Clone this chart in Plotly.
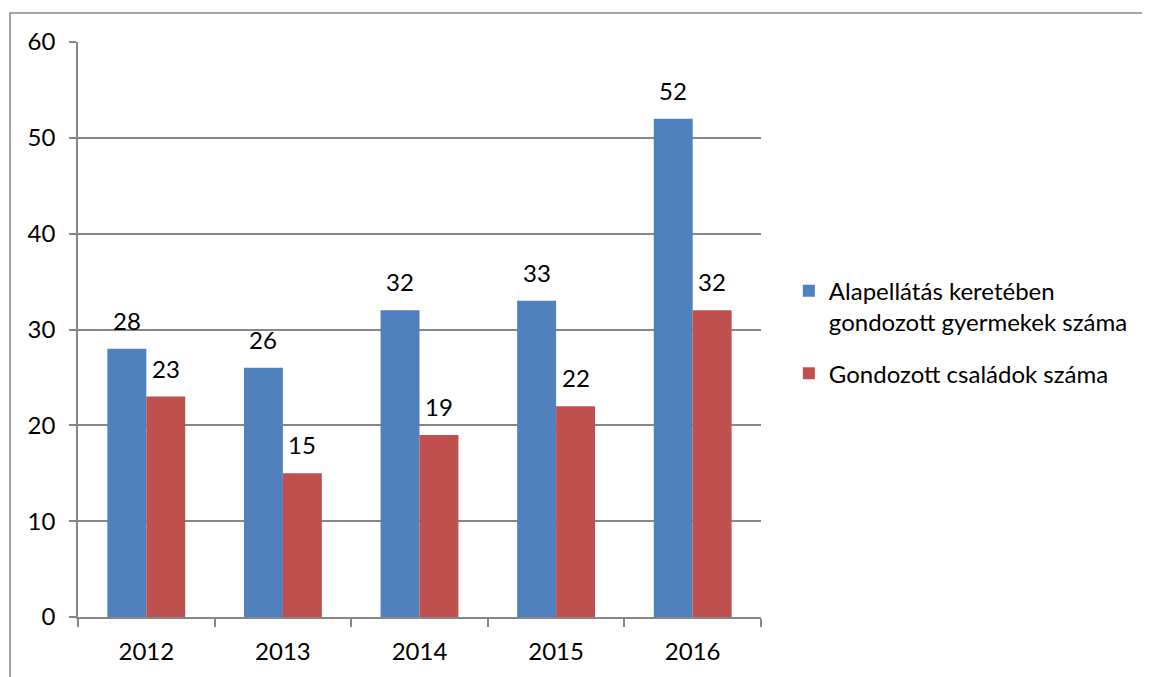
import plotly.graph_objects as go

years = ["2012", "2013", "2014", "2015", "2016"]
children = [28, 26, 32, 33, 52]
families = [23, 15, 19, 22, 32]
series_names = ["Alapellátás keretében<br>gondozott gyermekek száma", "Gondozott családok száma"]
colors = ["#4F81BD", "#C0504D"]
y_ticks = [0, 10, 20, 30, 40, 50, 60]

FONT = "Lato"
FS = 24
GRID = "#868686"

# plot area in figure pixels (page has an 8px body offset)
L, T, R, B = 70, 34, 753, 609.5
PW, PH = R - L, B - T

fig = go.Figure()
for i, (vals, name, col) in enumerate(zip([children, families], series_names, colors)):
    fig.add_trace(go.Bar(x=years, y=vals, name=name, marker_color=col,
                         marker_line_width=0, legendgroup=f"g{i}"))

# data labels (category index used for x so numeric-looking names are not misread)
for i, vals in enumerate([children, families]):
    shift = -19.5 if i == 0 else 19.5
    for j, v in enumerate(vals):
        fig.add_annotation(x=j, y=v, text=str(v), showarrow=False, xshift=shift,
                           yanchor="bottom", yshift=12, font=dict(family=FONT, size=FS, color="black"))

fig.update_layout(
    width=1150, height=677,
    margin=dict(l=L, r=1150 - R, t=T, b=677 - B, autoexpand=False),
    paper_bgcolor="white", plot_bgcolor="white",
    barmode="group", bargap=0.43, bargroupgap=0,
    font=dict(family=FONT, size=FS, color="black"),
    showlegend=True,
    legend=dict(xref="container", yref="container", x=0.679, y=0.615,
                xanchor="left", yanchor="top", valign="top",
                tracegroupgap=17, font=dict(family=FONT, size=FS, color="black"),
                bgcolor="rgba(0,0,0,0)"),
    shapes=[dict(type="rect", xref="paper", yref="paper",
                 x0=(2 - L) / PW, x1=(1250 - L) / PW,
                 y0=-(800 - B) / PH, y1=(B - 5) / PH,
                 line=dict(color="#888888", width=1.5), fillcolor="rgba(0,0,0,0)", layer="below")],
)
fig.update_xaxes(type="category", showline=True, linecolor=GRID, linewidth=1.5,
                 ticks="outside", ticklen=8, tickcolor=GRID, tickwidth=1.5,
                 tickson="boundaries", showgrid=False, ticklabelstandoff=12,
                 tickangle=0, automargin=False)
fig.update_yaxes(range=[0, 60], tickvals=y_ticks, showline=True, linecolor=GRID, linewidth=1.5,
                 ticks="outside", ticklen=7, tickcolor=GRID, tickwidth=1.5,
                 showgrid=True, gridcolor=GRID, gridwidth=1.5, zeroline=False,
                 ticklabelstandoff=9, automargin=False)

fig.write_html("out.html")
